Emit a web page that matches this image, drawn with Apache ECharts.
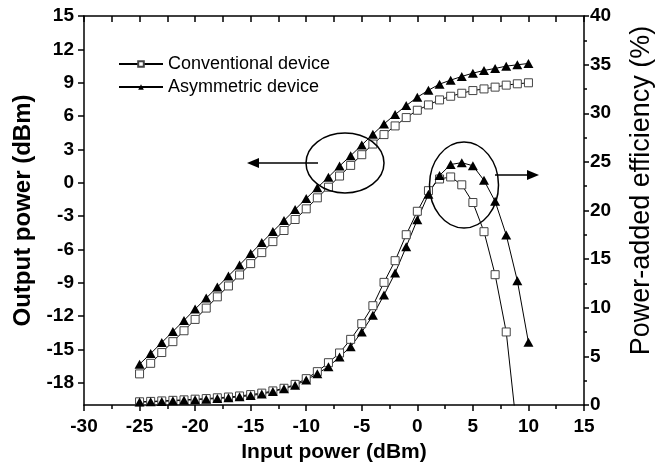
<!DOCTYPE html>
<html><head><meta charset="utf-8">
<script src="https://cdn.jsdelivr.net/npm/echarts@6/dist/echarts.min.js"></script>
<style>html,body{margin:0;padding:0;background:#fff}#c{width:663px;height:468px}</style>
</head><body><div id="c"></div>
<script>
// ---- data ----
const inputPower = [-25,-24,-23,-22,-21,-20,-19,-18,-17,-16,-15,-14,-13,-12,-11,-10,-9,-8,-7,-6,-5,-4,-3,-2,-1,0,1,2,3,4,5,6,7,8,9,10];
const outConventional = [-17.2,-16.25,-15.28,-14.3,-13.32,-12.3,-11.28,-10.27,-9.29,-8.3,-7.28,-6.29,-5.3,-4.3,-3.31,-2.35,-1.36,-0.4,0.6,1.56,2.52,3.48,4.33,5.11,5.86,6.52,7.0,7.45,7.78,8.05,8.29,8.44,8.6,8.78,8.9,8.99];
const outAsymmetric = [-16.33,-15.37,-14.38,-13.39,-12.39,-11.37,-10.38,-9.39,-8.39,-7.4,-6.38,-5.39,-4.39,-3.4,-2.41,-1.42,-0.45,0.5,1.5,2.43,3.39,4.36,5.29,6.13,6.94,7.69,8.32,8.87,9.23,9.56,9.86,10.1,10.28,10.49,10.61,10.73];
const paeConventional = [0.33,0.37,0.42,0.48,0.53,0.6,0.66,0.74,0.82,0.93,1.07,1.22,1.45,1.72,2.12,2.71,3.43,4.35,5.35,6.75,8.36,10.21,12.61,14.84,17.51,19.92,22.04,23.24,23.45,22.64,20.82,17.82,13.4,7.51,-3.0];
const paeAsymmetric = [0.3,0.33,0.37,0.43,0.48,0.55,0.6,0.67,0.74,0.84,0.98,1.12,1.38,1.68,2.02,2.57,3.22,3.94,4.94,6.0,7.51,9.22,11.31,13.57,16.28,19.06,21.67,23.6,24.73,24.92,24.6,23.1,20.94,17.49,12.78,6.45];
const seriesNames = ['Conventional device', 'Asymmetric device'];
const leftTickValues = [-18,-15,-12,-9,-6,-3,0,3,6,9,12,15];

function pairs(xs, ys) { return ys.map((y, i) => [xs[i], y]); }

const FONT = '"Liberation Sans", Arial, sans-serif';
const chart = echarts.init(document.getElementById('c'), null, {renderer: 'canvas'});

const axisLine = {show: true, onZero: false, lineStyle: {color: '#000', width: 1.5}};
const tickLbl = {color: '#000', fontFamily: FONT, fontWeight: 'bold', fontSize: 19};

const convStyle = {
  type: 'line', symbol: 'rect', symbolSize: 8, showSymbol: true,
  lineStyle: {color: '#000', width: 1},
  itemStyle: {color: '#fff', borderColor: '#444', borderWidth: 1},
  emphasis: {disabled: true}, animation: false, clip: true
};
const asymStyle = {
  type: 'line', symbol: 'triangle', symbolSize: [10, 9], showSymbol: true,
  lineStyle: {color: '#000', width: 1},
  itemStyle: {color: '#000'},
  emphasis: {disabled: true}, animation: false, clip: true
};

chart.setOption({
  animation: false,
  backgroundColor: '#fff',
  grid: {left: 84, right: 77, top: 16, bottom: 63, containLabel: false},
  legend: {
    data: seriesNames, orient: 'vertical', left: 113, top: 49,
    itemWidth: 44, itemHeight: 7, itemGap: 3,
    textStyle: {fontFamily: FONT, fontSize: 18, color: '#000', lineHeight: 20}
  },
  xAxis: [{
    type: 'value', min: -30, max: 15, interval: 5, position: 'bottom',
    axisLine: axisLine,
    axisTick: {show: true, inside: false, length: 6, lineStyle: {color: '#000', width: 1.5}},
    minorTick: {show: true, splitNumber: 2, length: 4, lineStyle: {color: '#000', width: 1.5}},
    splitLine: {show: false},
    axisLabel: Object.assign({margin: 12}, tickLbl),
    name: 'Input power (dBm)', nameLocation: 'middle', nameGap: 37,
    nameTextStyle: {color: '#000', fontFamily: FONT, fontWeight: 'bold', fontSize: 21}
  }, {
    type: 'value', min: -30, max: 15, interval: 2.5, position: 'top',
    axisLine: axisLine,
    axisTick: {show: true, inside: true, length: 6, lineStyle: {color: '#000', width: 1.5}},
    axisLabel: {show: false}, splitLine: {show: false}
  }],
  yAxis: [{
    type: 'value', min: -20, max: 15, position: 'left',
    axisLine: axisLine,
    axisTick: {show: true, inside: false, length: 6, customValues: leftTickValues, lineStyle: {color: '#000', width: 1.5}},
    splitLine: {show: false},
    axisLabel: Object.assign({margin: 10, customValues: leftTickValues}, tickLbl),
    name: 'Output power (dBm)', nameLocation: 'middle', nameGap: 47, nameRotate: 90,
    nameTextStyle: {color: '#000', fontFamily: FONT, fontWeight: 'bold', fontSize: 24}
  }, {
    type: 'value', min: 0, max: 40, interval: 5, position: 'right',
    axisLine: axisLine,
    axisTick: {show: true, inside: false, length: 5, lineStyle: {color: '#000', width: 1.5}},
    minorTick: {show: true, splitNumber: 2, length: 3, lineStyle: {color: '#000', width: 1.5}},
    splitLine: {show: false},
    axisLabel: Object.assign({margin: 6}, tickLbl),
    name: 'Power-added efficiency (%)', nameLocation: 'middle', nameGap: 44, nameRotate: 90,
    nameTextStyle: {color: '#000', fontFamily: FONT, fontWeight: 'normal', fontSize: 27, padding: [0, 0, 0, 40]}
  }],
  series: [
    Object.assign({name: seriesNames[0], xAxisIndex: 0, yAxisIndex: 0, data: pairs(inputPower, outConventional)}, convStyle),
    Object.assign({name: seriesNames[1], xAxisIndex: 0, yAxisIndex: 0, data: pairs(inputPower, outAsymmetric)}, asymStyle),
    Object.assign({name: seriesNames[0], xAxisIndex: 0, yAxisIndex: 1, data: pairs(inputPower, paeConventional)}, convStyle),
    Object.assign({name: seriesNames[1], xAxisIndex: 0, yAxisIndex: 1, data: pairs(inputPower, paeAsymmetric)}, asymStyle)
  ],
  graphic: [
    {type: 'ellipse', shape: {cx: 345, cy: 163, rx: 39, ry: 30}, style: {fill: 'none', stroke: '#000', lineWidth: 1.5}, z: 100},
    {type: 'line', shape: {x1: 318, y1: 163, x2: 256, y2: 163}, style: {stroke: '#000', lineWidth: 1.5}, z: 100},
    {type: 'polygon', shape: {points: [[247, 163], [259, 158], [259, 168]]}, style: {fill: '#000'}, z: 100},
    {type: 'ellipse', shape: {cx: 464, cy: 185, rx: 34.5, ry: 43}, style: {fill: 'none', stroke: '#000', lineWidth: 1.5}, z: 100},
    {type: 'line', shape: {x1: 495, y1: 175, x2: 530, y2: 175}, style: {stroke: '#000', lineWidth: 1.5}, z: 100},
    {type: 'polygon', shape: {points: [[539, 175], [527, 170], [527, 180]]}, style: {fill: '#000'}, z: 100}
  ]
});
</script>
</body></html>
